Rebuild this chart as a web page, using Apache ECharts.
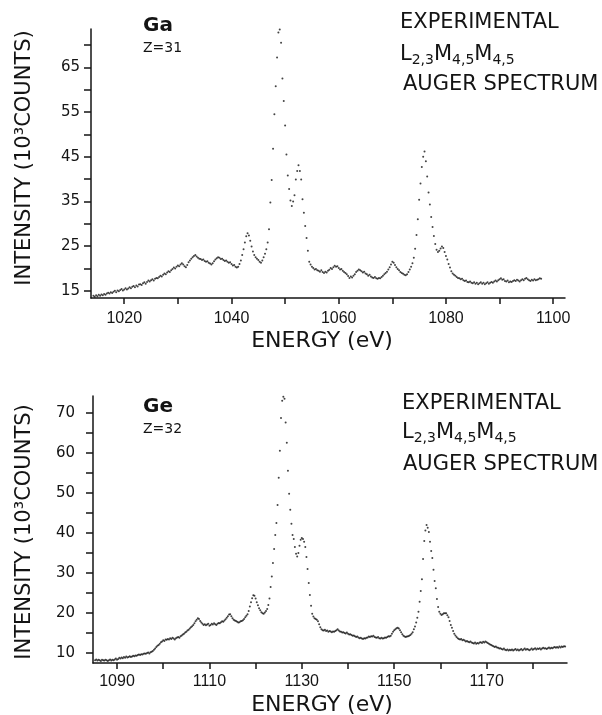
<!DOCTYPE html>
<html><head><meta charset="utf-8">
<script src="https://cdn.jsdelivr.net/npm/echarts@6/dist/echarts.min.js"></script>
<style>html,body{margin:0;padding:0;background:#fff}#c{width:602px;height:715px}</style>
</head><body><div id="c"></div>
<script>
// ---- Ga (Z=31) spectrum: energy grid start / step (eV), intensities (10^3 counts)
const gaStart = 1014.25;
const gaStep = 0.25;
const gaIntensity = [
13.9,13.7,14.0,13.8, 14.1,13.9,14.2,14.0, 14.3,14.1,14.4,14.6, 14.4,14.7,14.5,14.8, 15.0,14.7,15.1,14.9,
15.2,15.4,15.1,15.3, 15.6,15.3,15.5,15.8, 15.6,15.9,16.1,15.8, 16.2,16.0,16.4,16.5, 16.3,16.7,16.9,16.6,
17.0,17.3,17.1,17.4, 17.6,17.3,17.7,17.9, 17.8,18.1,18.4,18.2, 18.6,18.9,18.7,19.1, 19.4,19.2,19.6,19.9,
20.2,20.0,20.4,20.7, 20.5,20.9,21.2,20.9, 20.5,20.3,20.8,21.4, 21.8,22.2,22.5,22.8, 23.0,22.7,22.4,22.2,
22.1,21.9,22.0,21.7, 21.5,21.6,21.3,21.1, 20.9,21.2,21.6,22.0, 22.3,22.5,22.4,22.1, 22.2,21.9,21.7,21.8,
21.5,21.3,21.4,21.0, 20.7,20.8,20.4,20.2, 20.4,21.0,21.8,23.0, 24.3,25.8,27.2,27.9, 27.4,26.2,24.9,23.8,
23.0,22.5,22.2,21.9, 21.5,21.3,21.8,22.5, 23.3,24.3,25.8,28.8, 34.8,39.8,46.8,54.5, 60.8,67.2,72.8,73.5,
70.5,62.5,57.5,52.0, 45.5,40.8,37.8,35.2, 34.0,35.0,36.4,39.9, 41.8,43.1,41.8,39.9, 35.5,32.5,29.5,26.8,
24.0,21.5,20.9,20.4, 20.1,19.8,19.9,19.6, 19.5,19.3,19.6,19.2, 19.0,19.3,19.1,19.5, 19.7,20.1,19.9,20.3,
20.6,20.4,20.5,20.1, 19.8,19.9,19.5,19.2, 19.0,18.7,18.3,17.9, 18.2,18.0,18.4,18.7, 19.2,19.5,19.8,19.6,
19.4,19.1,19.3,18.9, 18.7,18.4,18.6,18.2, 18.0,17.9,18.1,17.8, 17.7,17.9,17.8,18.1, 18.4,18.7,19.0,19.3,
19.8,20.3,20.9,21.5, 21.3,20.8,20.3,19.9, 19.6,19.2,19.0,18.8, 18.6,18.5,18.7,19.2, 19.8,20.4,21.2,22.4,
24.4,27.5,31.0,35.4, 39.0,42.7,45.0,46.2, 44.0,40.6,37.0,34.3, 31.5,29.3,27.3,25.5, 24.2,23.7,24.0,24.5,
24.9,24.6,23.7,22.8, 22.0,21.0,20.2,19.4, 18.9,18.6,18.4,18.1, 17.9,17.8,17.6,17.7, 17.4,17.2,17.3,17.0,
16.9,17.1,16.8,16.7, 16.9,16.6,16.8,16.5, 16.7,16.9,16.6,16.8, 16.5,16.7,16.9,16.6, 16.8,17.0,16.8,17.1,
17.3,17.1,17.4,17.6, 17.8,17.5,17.6,17.2, 17.1,17.3,16.9,17.1, 17.0,17.2,17.4,17.2, 17.5,17.3,17.1,17.4,
17.6,17.4,17.7,17.9, 17.6,17.4,17.2,17.5, 17.3,17.6,17.4,17.5, 17.6,17.8,17.7
];

// ---- Ge (Z=32) spectrum
const geStart = 1085.25;
const geStep = 0.25;
const geIntensity = [
8.2,8.4,8.1,8.3, 8.2,8.0,8.3,8.2, 8.1,8.3,8.2,8.0, 8.2,8.4,8.1,8.3, 8.2,8.4,8.6,8.3,
8.5,8.8,8.6,8.9, 8.7,9.0,8.8,9.1, 8.9,9.0,9.2,9.0, 9.1,9.3,9.2,9.4, 9.3,9.5,9.6,9.5,
9.7,9.6,9.8,9.9, 9.8,10.0,10.1,9.9, 10.2,10.3,10.5,10.8, 11.1,11.5,11.8,12.0, 12.3,12.7,12.9,13.2,
13.0,13.4,13.3,13.5, 13.4,13.7,13.5,13.8, 13.6,13.4,13.7,13.9, 14.0,13.8,14.2,14.4, 14.6,14.8,15.1,15.3,
15.6,15.8,16.1,16.4, 16.7,17.0,17.4,17.9, 18.3,18.7,18.5,18.0, 17.6,17.3,17.0,17.2, 16.9,17.1,17.3,16.8,
17.0,17.3,17.1,17.4, 17.2,17.0,17.3,17.5, 17.4,17.7,17.9,17.8, 18.1,18.4,18.8,19.2, 19.6,19.7,19.2,18.7,
18.3,18.1,18.0,17.8, 17.6,17.7,17.9,18.0, 18.2,18.5,18.9,19.3, 19.7,20.5,21.6,22.7, 23.7,24.4,24.3,23.6,
22.7,21.9,21.2,20.7, 20.2,19.9,19.8,20.1, 20.5,21.0,22.0,23.6, 26.5,29.1,32.5,36.0, 39.5,42.5,47.0,53.8,
60.5,68.7,73.0,74.0, 73.5,67.6,62.5,55.5, 49.8,45.8,42.3,39.5, 38.5,36.5,34.8,34.1, 35.0,36.8,38.3,38.7,
38.5,37.8,36.5,34.0, 31.0,27.5,24.5,21.8, 19.8,19.1,18.7,18.5, 18.3,17.9,17.2,16.4, 15.9,15.7,15.6,15.8,
15.5,15.6,15.3,15.5, 15.4,15.2,15.4,15.3, 15.5,15.7,15.9,15.6, 15.4,15.3,15.1,15.2, 15.0,14.9,15.1,14.8,
14.6,14.7,14.5,14.3, 14.4,14.2,14.0,14.1, 13.9,13.7,13.8,13.6, 13.5,13.7,13.6,13.8, 13.9,14.1,14.0,14.2,
14.1,14.3,14.0,13.9, 13.8,14.0,13.7,13.6, 13.8,13.6,13.7,13.9, 13.8,14.0,14.2,14.1, 14.3,14.8,15.3,15.7,
15.9,16.2,16.3,16.1, 15.7,15.2,14.7,14.3, 14.1,14.0,14.1,14.2, 14.3,14.5,14.8,15.2, 15.9,16.6,17.6,18.8,
20.3,22.8,25.5,28.4, 33.5,38.0,40.6,42.0, 41.3,40.2,37.8,35.5, 33.7,30.8,28.0,26.2, 23.5,21.5,20.3,19.8,
19.5,19.7,19.9,19.9, 19.9,19.4,18.9,18.0, 17.0,16.3,15.5,14.8, 14.4,14.0,13.7,13.5, 13.4,13.5,13.2,13.3,
13.1,12.9,13.0,12.8, 12.7,12.9,12.6,12.5, 12.4,12.6,12.3,12.5, 12.4,12.6,12.7,12.5, 12.8,12.6,12.9,12.7,
12.5,12.3,12.1,12.0, 11.8,11.7,11.5,11.6, 11.4,11.3,11.1,11.2, 11.0,10.9,11.1,10.8, 10.7,10.9,10.6,10.8,
10.7,10.9,10.6,10.8, 11.0,10.7,10.9,10.6, 10.8,11.0,10.7,10.9, 11.1,10.8,11.0,10.9, 10.7,10.9,11.1,10.8,
11.0,11.2,10.9,11.1, 11.0,11.2,10.9,11.1, 11.3,11.1,11.2,11.0, 11.2,11.4,11.1,11.3, 11.2,11.4,11.5,11.3,
11.5,11.3,11.6,11.4, 11.6,11.5,11.7,11.6
];

// ---- axis ticks and tick labels
const gaXTicks = [1020,1030,1040,1050,1060,1070,1080,1090,1100];
const gaXLabels = [1020,1040,1060,1080,1100];
const gaYTicks = [15,20,25,30,35,40,45,50,55,60,65,70];
const gaYLabels = [15,25,35,45,55,65];
const geXTicks = [1090,1100,1110,1120,1130,1140,1150,1160,1170,1180];
const geXLabels = [1090,1110,1130,1150,1170];
const geYTicks = [10,15,20,25,30,35,40,45,50,55,60,65,70];
const geYLabels = [10,20,30,40,50,60,70];

function toPoints(start, step, vals) {
  return vals.map((v, i) => [start + i * step, v]);
}

const INK = '#141414';
const FONT = 'DejaVu Sans';
const plain = v => String(Math.round(v));

function xAxis(gi, min, max, ticks, labels, margin) {
  return {
    type: 'value', gridIndex: gi, min: min, max: max,
    axisLine: {show: true, onZero: false, lineStyle: {color: INK, width: 1.5}},
    axisTick: {show: true, customValues: ticks, length: 6, inside: false, lineStyle: {color: INK, width: 1.5}},
    axisLabel: {show: true, customValues: labels, margin: margin, color: INK, formatter: plain,
      fontFamily: 'Liberation Sans', fontSize: 16},
    splitLine: {show: false}
  };
}
function yAxis(gi, min, max, ticks, labels, margin) {
  return {
    type: 'value', gridIndex: gi, min: min, max: max,
    axisLine: {show: true, onZero: false, lineStyle: {color: INK, width: 1.5}},
    axisTick: {show: true, customValues: ticks, length: 7, inside: false, lineStyle: {color: INK, width: 1.5}},
    axisLabel: {show: true, customValues: labels, margin: margin, color: INK, formatter: plain,
      fontFamily: FONT, fontSize: 15},
    splitLine: {show: false}
  };
}

function txt(x, y, text, size, align, weight) {
  return {
    type: 'text', x: x, y: y, silent: true,
    style: {text: text, fill: INK, fontFamily: FONT, fontSize: size, fontWeight: weight || 'normal',
      align: align || 'left', verticalAlign: 'middle'}
  };
}
function auger(x, y) {
  return {
    type: 'text', x: x, y: y, silent: true,
    style: {
      text: 'L{s|2,3}M{s|4,5}M{s|4,5}', fill: INK, fontFamily: FONT, fontSize: 21,
      lineHeight: 26, align: 'left', verticalAlign: 'middle',
      rich: {s: {fontSize: 14, fontFamily: FONT, fill: INK, lineHeight: 14, padding: [11, 0, 0, 0]}}
    }
  };
}
function ytitle(x, y) {
  return {
    type: 'text', x: x, y: y, rotation: Math.PI / 2, silent: true,
    style: {text: 'INTENSITY (10³COUNTS)', fill: INK, fontFamily: FONT, fontSize: 21,
      align: 'center', verticalAlign: 'middle'}
  };
}

const chart = echarts.init(document.getElementById('c'), null, {renderer: 'canvas'});
chart.setOption({
  animation: false,
  backgroundColor: '#ffffff',
  grid: [
    {left: 91, top: 29, width: 474, height: 269},
    {left: 93, top: 396, width: 474, height: 267}
  ],
  xAxis: [
    xAxis(0, 1013.8, 1102.2, gaXTicks, gaXLabels, 13),
    xAxis(1, 1084.8, 1187.4, geXTicks, geXLabels, 11)
  ],
  yAxis: [
    yAxis(0, 13.4, 73.6, gaYTicks, gaYLabels, 11),
    yAxis(1, 7.5, 74.2, geYTicks, geYLabels, 18)
  ],
  series: [
    {type: 'scatter', xAxisIndex: 0, yAxisIndex: 0, symbol: 'circle', symbolSize: 2,
     itemStyle: {color: INK}, data: toPoints(gaStart, gaStep, gaIntensity)},
    {type: 'scatter', xAxisIndex: 1, yAxisIndex: 1, symbol: 'circle', symbolSize: 2,
     itemStyle: {color: INK}, data: toPoints(geStart, geStep, geIntensity)}
  ],
  graphic: [
    ytitle(25, 158),
    ytitle(25, 532),
    txt(143, 26, 'Ga', 20, 'left', 'bold'),
    txt(143, 48, 'Z=31', 14),
    txt(400, 23, 'EXPERIMENTAL', 21),
    auger(400, 55),
    txt(403, 85, 'AUGER SPECTRUM', 21),
    txt(143, 407, 'Ge', 20, 'left', 'bold'),
    txt(143, 429, 'Z=32', 14),
    txt(402, 404, 'EXPERIMENTAL', 21),
    auger(402, 433),
    txt(403, 465, 'AUGER SPECTRUM', 21),
    txt(322, 341, 'ENERGY (eV)', 22, 'center'),
    txt(322, 705, 'ENERGY (eV)', 22, 'center')
  ]
});
</script>
</body></html>
